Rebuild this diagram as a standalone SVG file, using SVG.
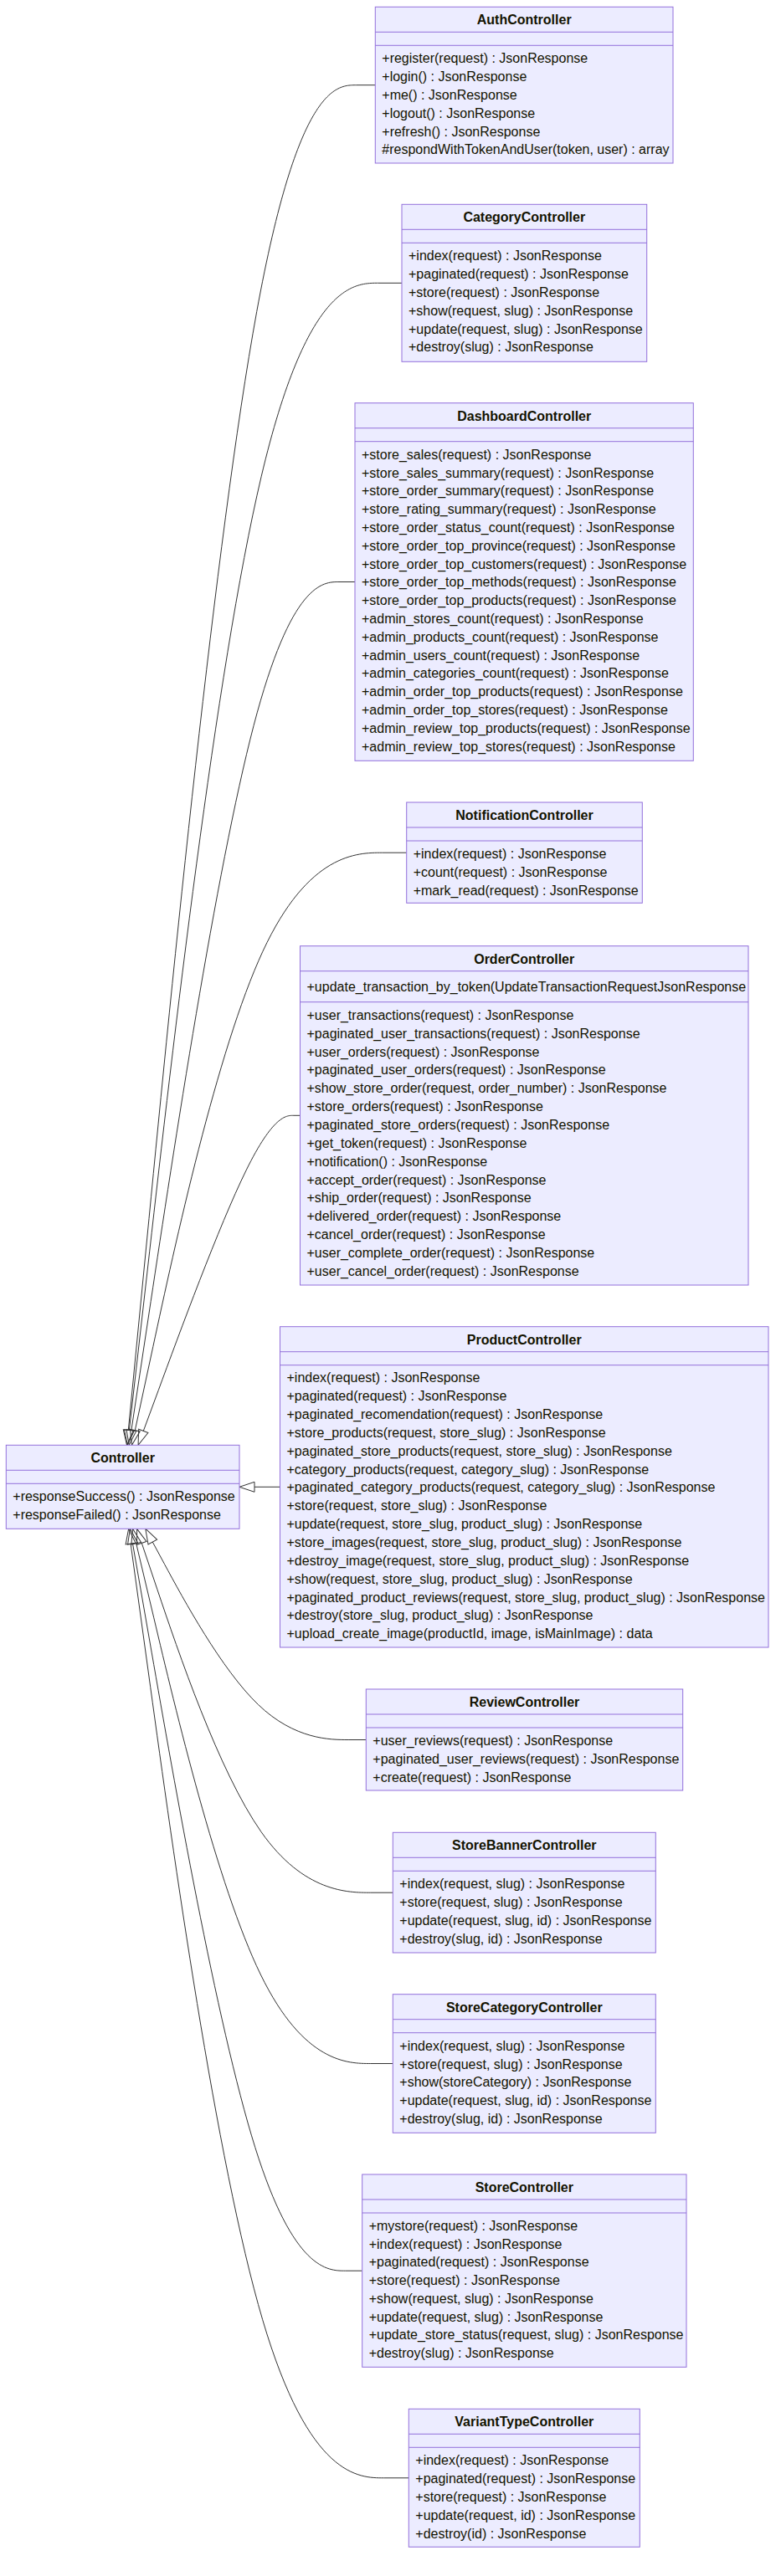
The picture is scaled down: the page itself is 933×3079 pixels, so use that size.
<svg xmlns="http://www.w3.org/2000/svg" width="933" height="3079" viewBox="0 0 933 3079">
<style>
.box{fill:#ECECFF;stroke:#9370DB;stroke-width:1}
.dv{stroke:#9370DB;stroke-width:1}
.t{font-family:"Liberation Sans",Arial,Helvetica,sans-serif;font-size:16px;fill:#131300}
.ti{font-weight:bold;text-anchor:middle}
.edge{fill:none;stroke:#333333;stroke-width:1;marker-end:url(#ext)}
</style>
<defs>
<marker id="ext" viewBox="0 0 20 14" refX="1" refY="7" markerWidth="20" markerHeight="14" markerUnits="userSpaceOnUse" orient="auto">
<path d="M1,1 L19,7 L1,13 Z" fill="none" stroke="#333333" stroke-width="1"/>
</marker>
</defs>
<rect width="933" height="3079" fill="#ffffff"/>
<g id="connectors">
<path class="edge" d="M448.3,101.7 L425.3,101.7 C402.2,101.7 356.1,101.7 306.7,372.6 C257.2,643.6 204.4,1185.4 178,1456.4 L153.3,1709.4"/>
<path class="edge" d="M480,338.3 L451.7,338.3 C423.3,338.3 366.7,338.3 312.1,569.8 C257.5,801.3 204.9,1264.3 178.7,1495.8 L154.4,1709.4"/>
<path class="edge" d="M424,695.5 L405,695.5 C386,695.5 348,695.5 303,867.5 C258.1,1039.4 206.1,1383.4 180.2,1555.3 L156.9,1709.5"/>
<path class="edge" d="M485.7,1019.2 L456.4,1019.2 C427.1,1019.2 368.6,1019.2 313.9,1137.2 C259.2,1255.2 208.3,1491.3 182.9,1609.3 L161.3,1709.7"/>
<path class="edge" d="M358.5,1333.3 L350.1,1333.3 C342.2,1333.3 326.2,1333.3 294,1399 C261.7,1464.6 213.4,1596 189.3,1661.6 L171.3,1710.4"/>
<path class="edge" d="M334.5,1777.3 L304,1777.3"/>
<path class="edge" d="M437.3,2079.5 L416.1,2079.5 C394.9,2079.5 352.4,2079.5 308.5,2037.5 C264.6,1995.4 219.1,1911.4 196.4,1869.3 L182.3,1843.1"/>
<path class="edge" d="M469.3,2262.2 L442.8,2262.2 C416.2,2262.2 363.1,2262.2 312.1,2189.7 C261.2,2117.2 212.3,1972.3 187.9,1899.8 L169.3,1844.4"/>
<path class="edge" d="M469.3,2466.5 L442.8,2466.5 C416.2,2466.5 363.1,2466.5 311.3,2360 C259.5,2253.4 209,2040.4 183.8,1933.8 L162.7,1844.8"/>
<path class="edge" d="M432.7,2714.2 L412.3,2714.2 C391.8,2714.2 350.9,2714.2 304.7,2566.4 C258.5,2418.6 206.9,2122.9 181.2,1975.1 L158.5,1845"/>
<path class="edge" d="M488.3,2961.8 L458.6,2961.8 C428.9,2961.8 369.4,2961.8 313.7,2772.7 C257.9,2583.6 205.7,2205.5 179.7,2016.4 L156.1,1845.1"/>
</g>
<g id="AuthController">
<rect class="box" x="448.3" y="8.3" width="355.7" height="186.7"/>
<line class="dv" x1="448.3" y1="38.3" x2="804" y2="38.3"/>
<line class="dv" x1="448.3" y1="54.3" x2="804" y2="54.3"/>
<text class="t ti" x="626.2" y="29.3">AuthController</text>
<text class="t" x="456.3" y="75.3"><tspan x="456.3">+register(request) : JsonResponse</tspan><tspan x="456.3" dy="21.8">+login() : JsonResponse</tspan><tspan x="456.3" dy="21.8">+me() : JsonResponse</tspan><tspan x="456.3" dy="21.8">+logout() : JsonResponse</tspan><tspan x="456.3" dy="21.8">+refresh() : JsonResponse</tspan><tspan x="456.3" dy="21.8">#respondWithTokenAndUser(token, user) : array</tspan></text>
</g>
<g id="CategoryController">
<rect class="box" x="480" y="244.3" width="292.7" height="188"/>
<line class="dv" x1="480" y1="274.3" x2="772.7" y2="274.3"/>
<line class="dv" x1="480" y1="290.3" x2="772.7" y2="290.3"/>
<text class="t ti" x="626.3" y="265.3">CategoryController</text>
<text class="t" x="488" y="311.3"><tspan x="488">+index(request) : JsonResponse</tspan><tspan x="488" dy="21.8">+paginated(request) : JsonResponse</tspan><tspan x="488" dy="21.8">+store(request) : JsonResponse</tspan><tspan x="488" dy="21.8">+show(request, slug) : JsonResponse</tspan><tspan x="488" dy="21.8">+update(request, slug) : JsonResponse</tspan><tspan x="488" dy="21.8">+destroy(slug) : JsonResponse</tspan></text>
</g>
<g id="DashboardController">
<rect class="box" x="424" y="481.7" width="404.3" height="427.6"/>
<line class="dv" x1="424" y1="511.7" x2="828.3" y2="511.7"/>
<line class="dv" x1="424" y1="527.7" x2="828.3" y2="527.7"/>
<text class="t ti" x="626.2" y="502.7">DashboardController</text>
<text class="t" x="432" y="548.7"><tspan x="432">+store_sales(request) : JsonResponse</tspan><tspan x="432" dy="21.8">+store_sales_summary(request) : JsonResponse</tspan><tspan x="432" dy="21.8">+store_order_summary(request) : JsonResponse</tspan><tspan x="432" dy="21.8">+store_rating_summary(request) : JsonResponse</tspan><tspan x="432" dy="21.8">+store_order_status_count(request) : JsonResponse</tspan><tspan x="432" dy="21.8">+store_order_top_province(request) : JsonResponse</tspan><tspan x="432" dy="21.8">+store_order_top_customers(request) : JsonResponse</tspan><tspan x="432" dy="21.8">+store_order_top_methods(request) : JsonResponse</tspan><tspan x="432" dy="21.8">+store_order_top_products(request) : JsonResponse</tspan><tspan x="432" dy="21.8">+admin_stores_count(request) : JsonResponse</tspan><tspan x="432" dy="21.8">+admin_products_count(request) : JsonResponse</tspan><tspan x="432" dy="21.8">+admin_users_count(request) : JsonResponse</tspan><tspan x="432" dy="21.8">+admin_categories_count(request) : JsonResponse</tspan><tspan x="432" dy="21.8">+admin_order_top_products(request) : JsonResponse</tspan><tspan x="432" dy="21.8">+admin_order_top_stores(request) : JsonResponse</tspan><tspan x="432" dy="21.8">+admin_review_top_products(request) : JsonResponse</tspan><tspan x="432" dy="21.8">+admin_review_top_stores(request) : JsonResponse</tspan></text>
</g>
<g id="NotificationController">
<rect class="box" x="485.7" y="959" width="281.6" height="120.3"/>
<line class="dv" x1="485.7" y1="989" x2="767.3" y2="989"/>
<line class="dv" x1="485.7" y1="1005" x2="767.3" y2="1005"/>
<text class="t ti" x="626.5" y="980">NotificationController</text>
<text class="t" x="493.7" y="1026"><tspan x="493.7">+index(request) : JsonResponse</tspan><tspan x="493.7" dy="21.8">+count(request) : JsonResponse</tspan><tspan x="493.7" dy="21.8">+mark_read(request) : JsonResponse</tspan></text>
</g>
<g id="OrderController">
<rect class="box" x="358.5" y="1130.7" width="535.5" height="405.3"/>
<line class="dv" x1="358.5" y1="1160.7" x2="894" y2="1160.7"/>
<line class="dv" x1="358.5" y1="1197.7" x2="894" y2="1197.7"/>
<text class="t ti" x="626.2" y="1151.7">OrderController</text>
<text class="t" x="366.5" y="1184.8">+update_transaction_by_token(UpdateTransactionRequestJsonResponse</text>
<text class="t" x="366.5" y="1218.8"><tspan x="366.5">+user_transactions(request) : JsonResponse</tspan><tspan x="366.5" dy="21.86">+paginated_user_transactions(request) : JsonResponse</tspan><tspan x="366.5" dy="21.86">+user_orders(request) : JsonResponse</tspan><tspan x="366.5" dy="21.86">+paginated_user_orders(request) : JsonResponse</tspan><tspan x="366.5" dy="21.86">+show_store_order(request, order_number) : JsonResponse</tspan><tspan x="366.5" dy="21.86">+store_orders(request) : JsonResponse</tspan><tspan x="366.5" dy="21.86">+paginated_store_orders(request) : JsonResponse</tspan><tspan x="366.5" dy="21.86">+get_token(request) : JsonResponse</tspan><tspan x="366.5" dy="21.86">+notification() : JsonResponse</tspan><tspan x="366.5" dy="21.86">+accept_order(request) : JsonResponse</tspan><tspan x="366.5" dy="21.86">+ship_order(request) : JsonResponse</tspan><tspan x="366.5" dy="21.86">+delivered_order(request) : JsonResponse</tspan><tspan x="366.5" dy="21.86">+cancel_order(request) : JsonResponse</tspan><tspan x="366.5" dy="21.86">+user_complete_order(request) : JsonResponse</tspan><tspan x="366.5" dy="21.86">+user_cancel_order(request) : JsonResponse</tspan></text>
</g>
<g id="ProductController">
<rect class="box" x="334.5" y="1585.7" width="583.5" height="383.3"/>
<line class="dv" x1="334.5" y1="1615.7" x2="918" y2="1615.7"/>
<line class="dv" x1="334.5" y1="1631.7" x2="918" y2="1631.7"/>
<text class="t ti" x="626.2" y="1606.7">ProductController</text>
<text class="t" x="342.5" y="1652.2"><tspan x="342.5">+index(request) : JsonResponse</tspan><tspan x="342.5" dy="21.86">+paginated(request) : JsonResponse</tspan><tspan x="342.5" dy="21.86">+paginated_recomendation(request) : JsonResponse</tspan><tspan x="342.5" dy="21.86">+store_products(request, store_slug) : JsonResponse</tspan><tspan x="342.5" dy="21.86">+paginated_store_products(request, store_slug) : JsonResponse</tspan><tspan x="342.5" dy="21.86">+category_products(request, category_slug) : JsonResponse</tspan><tspan x="342.5" dy="21.86">+paginated_category_products(request, category_slug) : JsonResponse</tspan><tspan x="342.5" dy="21.86">+store(request, store_slug) : JsonResponse</tspan><tspan x="342.5" dy="21.86">+update(request, store_slug, product_slug) : JsonResponse</tspan><tspan x="342.5" dy="21.86">+store_images(request, store_slug, product_slug) : JsonResponse</tspan><tspan x="342.5" dy="21.86">+destroy_image(request, store_slug, product_slug) : JsonResponse</tspan><tspan x="342.5" dy="21.86">+show(request, store_slug, product_slug) : JsonResponse</tspan><tspan x="342.5" dy="21.86">+paginated_product_reviews(request, store_slug, product_slug) : JsonResponse</tspan><tspan x="342.5" dy="21.86">+destroy(store_slug, product_slug) : JsonResponse</tspan><tspan x="342.5" dy="21.86">+upload_create_image(productId, image, isMainImage) : data</tspan></text>
</g>
<g id="Controller">
<rect class="box" x="7.3" y="1727.3" width="278.7" height="100"/>
<line class="dv" x1="7.3" y1="1757.3" x2="286" y2="1757.3"/>
<line class="dv" x1="7.3" y1="1773.3" x2="286" y2="1773.3"/>
<text class="t ti" x="146.7" y="1748.3">Controller</text>
<text class="t" x="15.3" y="1793.8"><tspan x="15.3">+responseSuccess() : JsonResponse</tspan><tspan x="15.3" dy="21.8">+responseFailed() : JsonResponse</tspan></text>
</g>
<g id="ReviewController">
<rect class="box" x="437.3" y="2019" width="378.4" height="121"/>
<line class="dv" x1="437.3" y1="2049" x2="815.7" y2="2049"/>
<line class="dv" x1="437.3" y1="2065" x2="815.7" y2="2065"/>
<text class="t ti" x="626.5" y="2040">ReviewController</text>
<text class="t" x="445.3" y="2086"><tspan x="445.3">+user_reviews(request) : JsonResponse</tspan><tspan x="445.3" dy="21.8">+paginated_user_reviews(request) : JsonResponse</tspan><tspan x="445.3" dy="21.8">+create(request) : JsonResponse</tspan></text>
</g>
<g id="StoreBannerController">
<rect class="box" x="469.3" y="2190.3" width="314" height="143.7"/>
<line class="dv" x1="469.3" y1="2220.3" x2="783.3" y2="2220.3"/>
<line class="dv" x1="469.3" y1="2236.3" x2="783.3" y2="2236.3"/>
<text class="t ti" x="626.3" y="2211.3">StoreBannerController</text>
<text class="t" x="477.3" y="2257.3"><tspan x="477.3">+index(request, slug) : JsonResponse</tspan><tspan x="477.3" dy="21.8">+store(request, slug) : JsonResponse</tspan><tspan x="477.3" dy="21.8">+update(request, slug, id) : JsonResponse</tspan><tspan x="477.3" dy="21.8">+destroy(slug, id) : JsonResponse</tspan></text>
</g>
<g id="StoreCategoryController">
<rect class="box" x="469.3" y="2383.7" width="314" height="165.6"/>
<line class="dv" x1="469.3" y1="2413.7" x2="783.3" y2="2413.7"/>
<line class="dv" x1="469.3" y1="2429.7" x2="783.3" y2="2429.7"/>
<text class="t ti" x="626.3" y="2404.7">StoreCategoryController</text>
<text class="t" x="477.3" y="2450.7"><tspan x="477.3">+index(request, slug) : JsonResponse</tspan><tspan x="477.3" dy="21.8">+store(request, slug) : JsonResponse</tspan><tspan x="477.3" dy="21.8">+show(storeCategory) : JsonResponse</tspan><tspan x="477.3" dy="21.8">+update(request, slug, id) : JsonResponse</tspan><tspan x="477.3" dy="21.8">+destroy(slug, id) : JsonResponse</tspan></text>
</g>
<g id="StoreController">
<rect class="box" x="432.7" y="2599" width="387.3" height="230.3"/>
<line class="dv" x1="432.7" y1="2629" x2="820" y2="2629"/>
<line class="dv" x1="432.7" y1="2645" x2="820" y2="2645"/>
<text class="t ti" x="626.3" y="2620">StoreController</text>
<text class="t" x="440.7" y="2666"><tspan x="440.7">+mystore(request) : JsonResponse</tspan><tspan x="440.7" dy="21.7">+index(request) : JsonResponse</tspan><tspan x="440.7" dy="21.7">+paginated(request) : JsonResponse</tspan><tspan x="440.7" dy="21.7">+store(request) : JsonResponse</tspan><tspan x="440.7" dy="21.7">+show(request, slug) : JsonResponse</tspan><tspan x="440.7" dy="21.7">+update(request, slug) : JsonResponse</tspan><tspan x="440.7" dy="21.7">+update_store_status(request, slug) : JsonResponse</tspan><tspan x="440.7" dy="21.7">+destroy(slug) : JsonResponse</tspan></text>
</g>
<g id="VariantTypeController">
<rect class="box" x="488.3" y="2879.3" width="276" height="165"/>
<line class="dv" x1="488.3" y1="2909.3" x2="764.3" y2="2909.3"/>
<line class="dv" x1="488.3" y1="2925.3" x2="764.3" y2="2925.3"/>
<text class="t ti" x="626.3" y="2900.3">VariantTypeController</text>
<text class="t" x="496.3" y="2946.3"><tspan x="496.3">+index(request) : JsonResponse</tspan><tspan x="496.3" dy="21.8">+paginated(request) : JsonResponse</tspan><tspan x="496.3" dy="21.8">+store(request) : JsonResponse</tspan><tspan x="496.3" dy="21.8">+update(request, id) : JsonResponse</tspan><tspan x="496.3" dy="21.8">+destroy(id) : JsonResponse</tspan></text>
</g>
</svg>
